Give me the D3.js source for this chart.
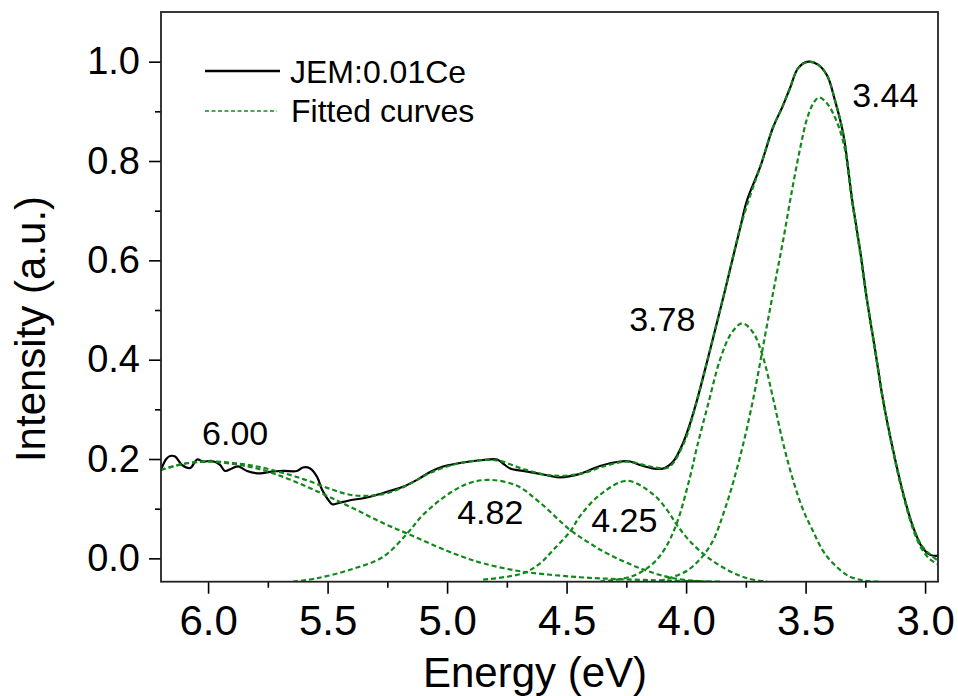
<!DOCTYPE html>
<html><head><meta charset="utf-8">
<script src="https://cdn.jsdelivr.net/npm/d3@7/dist/d3.min.js"></script>
<style>
html,body{margin:0;padding:0;background:#fff;}
svg text{font-family:"Liberation Sans",Arial,sans-serif;fill:#000;}
</style>
</head><body>
<svg id="chart" width="958" height="696"></svg>
<script>
// ---------- data ----------
const xTickValues = [6.0, 5.5, 5.0, 4.5, 4.0, 3.5, 3.0];
const xMinorTicks = [5.75, 5.25, 4.75, 4.25, 3.75, 3.25];
const yTickValues = [0.0, 0.2, 0.4, 0.6, 0.8, 1.0];
const yMinorTicks = [0.1, 0.3, 0.5, 0.7, 0.9];
const xTitle = "Energy (eV)";
const yTitle = "Intensity (a.u.)";
const seriesNames = ["JEM:0.01Ce", "Fitted curves"];

// measured spectrum [energy eV, intensity]
const measured = [[6.197,0.178],[6.175,0.200],[6.159,0.206],[6.138,0.205],[6.109,0.188],[6.075,0.182],[6.046,0.199],[6.021,0.195],[5.983,0.196],[5.950,0.188],[5.929,0.176],[5.900,0.181],[5.874,0.185],[5.837,0.176],[5.782,0.171],[5.741,0.174],[5.686,0.176],[5.628,0.176],[5.603,0.183],[5.573,0.181],[5.544,0.164],[5.523,0.138],[5.502,0.121],[5.481,0.109],[5.456,0.111],[5.406,0.117],[5.351,0.121],[5.293,0.128],[5.238,0.136],[5.184,0.144],[5.126,0.158],[5.071,0.174],[5.017,0.185],[4.958,0.191],[4.904,0.195],[4.849,0.198],[4.791,0.199],[4.766,0.191],[4.736,0.181],[4.682,0.176],[4.623,0.171],[4.569,0.166],[4.527,0.163],[4.444,0.170],[4.360,0.186],[4.276,0.195],[4.234,0.195],[4.192,0.188],[4.138,0.181],[4.096,0.181],[4.054,0.195],[4.013,0.232],[3.983,0.272],[3.954,0.319],[3.900,0.419],[3.837,0.540],[3.774,0.665],[3.745,0.721],[3.690,0.788],[3.636,0.868],[3.598,0.908],[3.565,0.947],[3.531,0.987],[3.490,1.000],[3.448,0.994],[3.410,0.972],[3.377,0.922],[3.343,0.856],[3.305,0.721],[3.272,0.620],[3.243,0.520],[3.209,0.419],[3.176,0.319],[3.134,0.218],[3.092,0.131],[3.050,0.063],[3.013,0.023],[2.979,0.007],[2.946,0.005]];

// cumulative fit
const fitSum = [[6.197,0.178],[6.105,0.190],[6.000,0.195],[5.895,0.192],[5.795,0.185],[5.686,0.172],[5.586,0.157],[5.490,0.140],[5.406,0.128],[5.322,0.126],[5.238,0.133],[5.155,0.150],[5.071,0.172],[4.962,0.190],[4.849,0.198],[4.778,0.196],[4.682,0.180],[4.569,0.167],[4.444,0.170],[4.339,0.186],[4.247,0.195],[4.151,0.185],[4.075,0.183],[4.013,0.228],[3.954,0.319],[3.900,0.419],[3.837,0.540],[3.774,0.665],[3.732,0.730],[3.690,0.788],[3.636,0.868],[3.598,0.908],[3.565,0.947],[3.531,0.987],[3.490,1.000],[3.448,0.994],[3.410,0.972],[3.377,0.922],[3.343,0.856],[3.305,0.721],[3.272,0.620],[3.243,0.520],[3.209,0.419],[3.176,0.319],[3.134,0.218],[3.092,0.131],[3.050,0.063],[3.013,0.025],[2.979,0.008],[2.946,-0.005]];

// individual fitted bands
const band600 = [[6.197,0.178],[6.105,0.190],[6.000,0.195],[5.895,0.190],[5.795,0.181],[5.686,0.164],[5.586,0.144],[5.490,0.123],[5.377,0.097],[5.268,0.071],[5.167,0.050],[5.059,0.027],[4.946,0.005],[4.849,-0.010],[4.707,-0.025],[4.569,-0.033],[4.444,-0.038],[4.331,-0.041],[4.054,-0.045],[3.858,-0.047]];
const band482 = [[5.644,-0.047],[5.544,-0.040],[5.406,-0.023],[5.268,0.003],[5.167,0.050],[5.100,0.088],[4.987,0.132],[4.904,0.152],[4.820,0.158],[4.707,0.146],[4.611,0.112],[4.485,0.057],[4.402,0.030],[4.331,0.010],[4.192,-0.020],[4.054,-0.040],[3.912,-0.047]];
const band425 = [[4.849,-0.043],[4.682,-0.030],[4.611,-0.010],[4.556,0.017],[4.485,0.054],[4.444,0.085],[4.360,0.128],[4.247,0.156],[4.138,0.129],[4.079,0.097],[4.038,0.067],[3.983,0.034],[3.912,0.003],[3.828,-0.023],[3.745,-0.040],[3.661,-0.047]];
const band378 = [[4.360,-0.047],[4.226,-0.036],[4.142,-0.012],[4.088,0.020],[4.038,0.072],[3.983,0.165],[3.954,0.225],[3.908,0.310],[3.858,0.400],[3.812,0.452],[3.766,0.473],[3.720,0.455],[3.678,0.405],[3.636,0.322],[3.594,0.232],[3.552,0.157],[3.510,0.097],[3.469,0.055],[3.427,0.015],[3.385,-0.010],[3.322,-0.035],[3.251,-0.045],[3.188,-0.047]];
const band344 = [[4.109,-0.045],[3.996,-0.025],[3.900,0.025],[3.837,0.100],[3.774,0.205],[3.720,0.319],[3.669,0.450],[3.628,0.555],[3.594,0.640],[3.561,0.730],[3.523,0.825],[3.494,0.885],[3.469,0.915],[3.444,0.928],[3.414,0.918],[3.385,0.896],[3.343,0.840],[3.305,0.718],[3.272,0.615],[3.243,0.520],[3.209,0.419],[3.176,0.319],[3.134,0.215],[3.092,0.128],[3.050,0.058],[3.013,0.018],[2.979,-0.002],[2.946,-0.012]];
const fittedBands = [fitSum, band600, band482, band425, band378, band344];

// peak annotations (left edge energy, baseline intensity)
const peakLabels = ["6.00", "4.82", "4.25", "3.78", "3.44"];
const peakLabelAt = [[6.025, 0.228], [4.958, 0.069], [4.397, 0.053], [4.238, 0.458], [3.305, 0.908]];

// ---------- drawing ----------
const svg = d3.select("#chart");
svg.append("rect").attr("width", 958).attr("height", 696).attr("fill", "#fff");

const L = 161, R = 938, T = 12, B = 581.7;
const x = d3.scaleLinear().domain([6.197, 2.946]).range([L, R]);
const y = d3.scaleLinear().domain([-0.047, 1.1]).range([B, T]);
const green = "#10891a";
const fontFam = '"Liberation Sans", Arial, sans-serif';

svg.append("clipPath").attr("id", "clip")
  .append("rect").attr("x", L).attr("y", T).attr("width", R - L).attr("height", B - T);

const line = d3.line().x(d => x(d[0])).y(d => y(d[1])).curve(d3.curveCatmullRom.alpha(0.5));

const plot = svg.append("g").attr("clip-path", "url(#clip)");
plot.append("path").datum(measured)
  .attr("d", line).attr("fill", "none").attr("stroke", "#000").attr("stroke-width", 2.2)
  .attr("stroke-linejoin", "round");
fittedBands.forEach(b => {
  plot.append("path").datum(b)
    .attr("d", line).attr("fill", "none").attr("stroke", green).attr("stroke-width", 2.2)
    .attr("stroke-dasharray", "5,3");
});

// axes
function styleAxis(g, size) {
  g.select(".domain").remove();
  g.selectAll(".tick line").attr("stroke", "#000").attr("stroke-width", 1.6);
  g.selectAll("text").attr("font-size", size).attr("font-family", fontFam).attr("fill", "#000");
}
const gx = svg.append("g").attr("transform", `translate(0,${B})`)
  .call(d3.axisBottom(x).tickValues(xTickValues).tickFormat(d3.format(".1f")).tickSize(12).tickSizeOuter(0).tickPadding(9));
styleAxis(gx, 42);
gx.selectAll("text").attr("dy", "0.71em").attr("y", 23);
const gxm = svg.append("g").attr("transform", `translate(0,${B})`)
  .call(d3.axisBottom(x).tickValues(xMinorTicks).tickFormat("").tickSize(6).tickSizeOuter(0));
styleAxis(gxm, 42);

const gy = svg.append("g").attr("transform", `translate(${L},0)`)
  .call(d3.axisLeft(y).tickValues(yTickValues).tickFormat(d3.format(".1f")).tickSize(12).tickSizeOuter(0).tickPadding(9));
styleAxis(gy, 38);
const gym = svg.append("g").attr("transform", `translate(${L},0)`)
  .call(d3.axisLeft(y).tickValues(yMinorTicks).tickFormat("").tickSize(6).tickSizeOuter(0));
styleAxis(gym, 38);

// frame
svg.append("rect").attr("x", L).attr("y", T).attr("width", R - L).attr("height", B - T)
  .attr("fill", "none").attr("stroke", "#222").attr("stroke-width", 1.8);

// titles
svg.append("text").attr("x", 535).attr("y", 687).attr("text-anchor", "middle")
  .attr("font-size", 42).text(xTitle);
svg.append("text").attr("transform", "translate(45,329) rotate(-90)").attr("text-anchor", "middle")
  .attr("font-size", 42).text(yTitle);

// legend
const lg = svg.append("g");
lg.append("line").attr("x1", 205).attr("x2", 280).attr("y1", 71).attr("y2", 71)
  .attr("stroke", "#000").attr("stroke-width", 2.4);
lg.append("text").attr("x", 290).attr("y", 83).attr("font-size", 32).text(seriesNames[0]);
lg.append("line").attr("x1", 205).attr("x2", 277).attr("y1", 111).attr("y2", 111)
  .attr("stroke", green).attr("stroke-width", 1.6).attr("stroke-dasharray", "4,2.5");
lg.append("text").attr("x", 291).attr("y", 122).attr("font-size", 32).text(seriesNames[1]);

// peak annotations
peakLabels.forEach((t, i) => {
  svg.append("text").attr("x", x(peakLabelAt[i][0])).attr("y", y(peakLabelAt[i][1]))
    .attr("font-size", 34).text(t);
});
</script>
</body></html>
